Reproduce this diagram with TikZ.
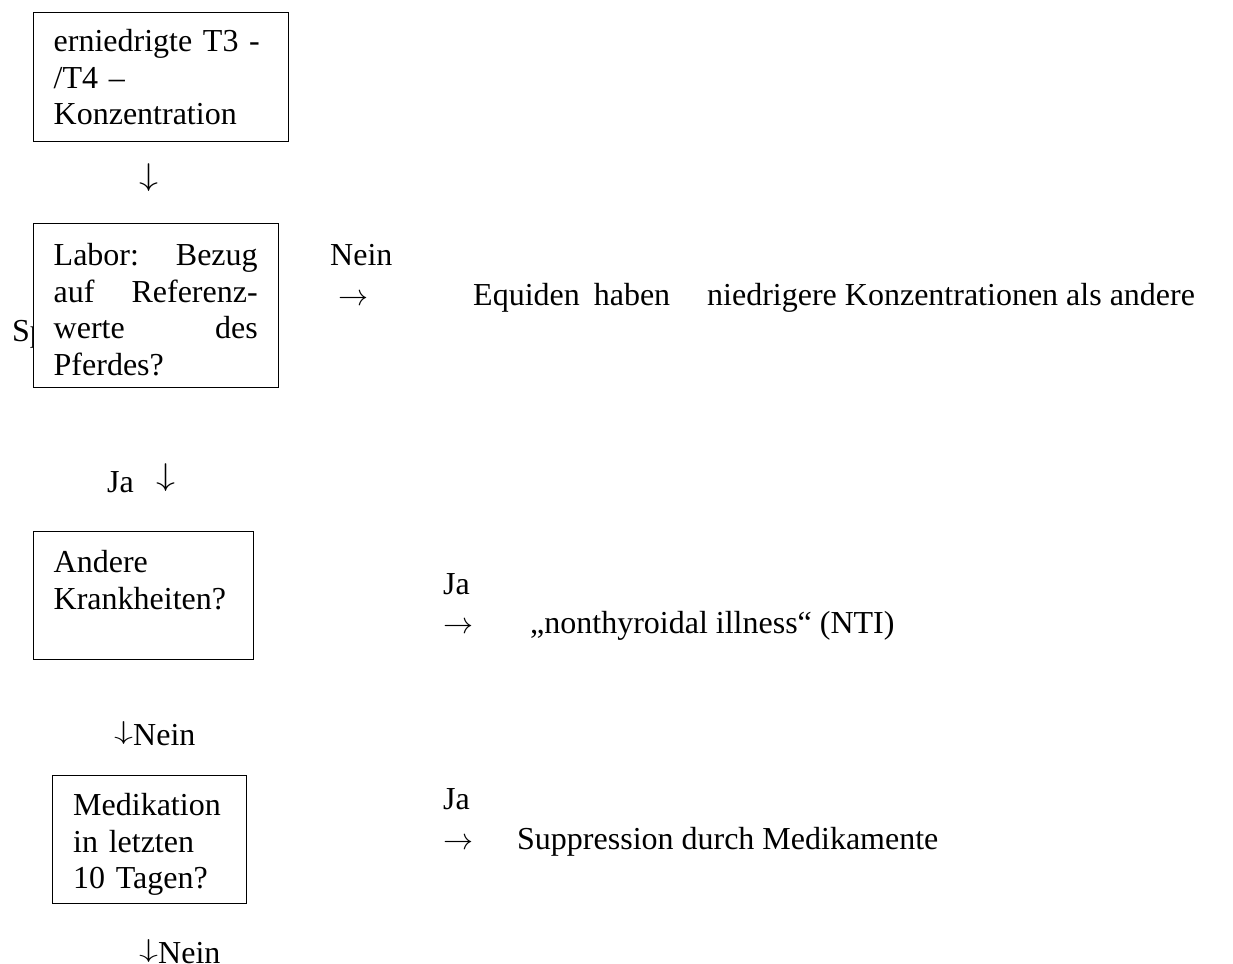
\documentclass[tikz,border=0pt]{standalone}
\usepackage{fontspec}
\setmainfont{Liberation Serif}
\usepackage{tikz}
\newcommand{\qfont}{\fontsize{32}{36.5}\selectfont}
\newcommand{\jline}[2]{\makebox[204pt][s]{#1\hfill#2}}
\newcommand{\dnarr}[1][28pt]{\raisebox{\depth}{\resizebox*{19pt}{#1}{$\downarrow$}}}
\newcommand{\rtarr}{\resizebox{30pt}{!}{$\rightarrow$}}
\tikzset{
  qbox/.style={draw=black, line width=1.4pt, fill=white, anchor=north west,
    align=left, inner xsep=20pt, inner ysep=0pt, font=\qfont},
  qtxt/.style={anchor=base west, inner sep=0pt, font=\qfont}
}

\begin{document}
\begin{tikzpicture}[x=1pt, y=-1pt]
  \useasboundingbox (0,0) rectangle (1233,963);
  % main chain
  \node[qbox, text width=215pt, minimum height=129pt] (conc) at (33,12)
    {erniedrigte T3 -\\/T4 –\\Konzentration};
  \node[qtxt] (down1) at (139,192) {\dnarr};

  \node[qtxt] (spez) at (12,341) {Sp};
  \node[qbox, text width=205pt, minimum height=164pt] (labor) at (33,223)
    {\rule{0pt}{30pt}\jline{Labor:}{Bezug}\\\jline{auf}{Referenz-}\\\jline{werte}{des}\\Pferdes?};
  \node[qtxt] (nein1) at (330,265) {Nein};
  \node[qtxt] (equi) at (338,305)
    {\makebox[135pt][l]{\rtarr}\makebox[197pt][s]{Equiden haben}\hspace{37pt}niedrigere Konzentrationen als andere};

  \node[qtxt] (ja1) at (107,492) {Ja\hspace{23pt}\dnarr};
  \node[qbox, text width=180pt, minimum height=128pt] (andere) at (33,531)
    {Andere\\Krankheiten?\\[-4.5pt]\mbox{}};
  \node[qtxt] (ja2) at (443,594) {Ja};
  \node[qtxt] (nti) at (443,633) {\makebox[87pt][l]{\rtarr}„nonthyroidal illness“ (NTI)};

  \node[qtxt] (nein2) at (114,745) {\dnarr[23pt]Nein};
  \node[qbox, text width=153pt, minimum height=128pt, inner xsep=20.5pt] (medi) at (52,775)
    {\rule{0pt}{32pt}Medikation\\in letzten\\10 Tagen?};
  \node[qtxt] (ja3) at (443,809) {Ja};
  \node[qtxt] (supp) at (443,849) {\makebox[74pt][l]{\rtarr}Suppression durch Medikamente};

  \node[qtxt] (nein3) at (139,963) {\dnarr[23pt]Nein};
\end{tikzpicture}
\end{document}
